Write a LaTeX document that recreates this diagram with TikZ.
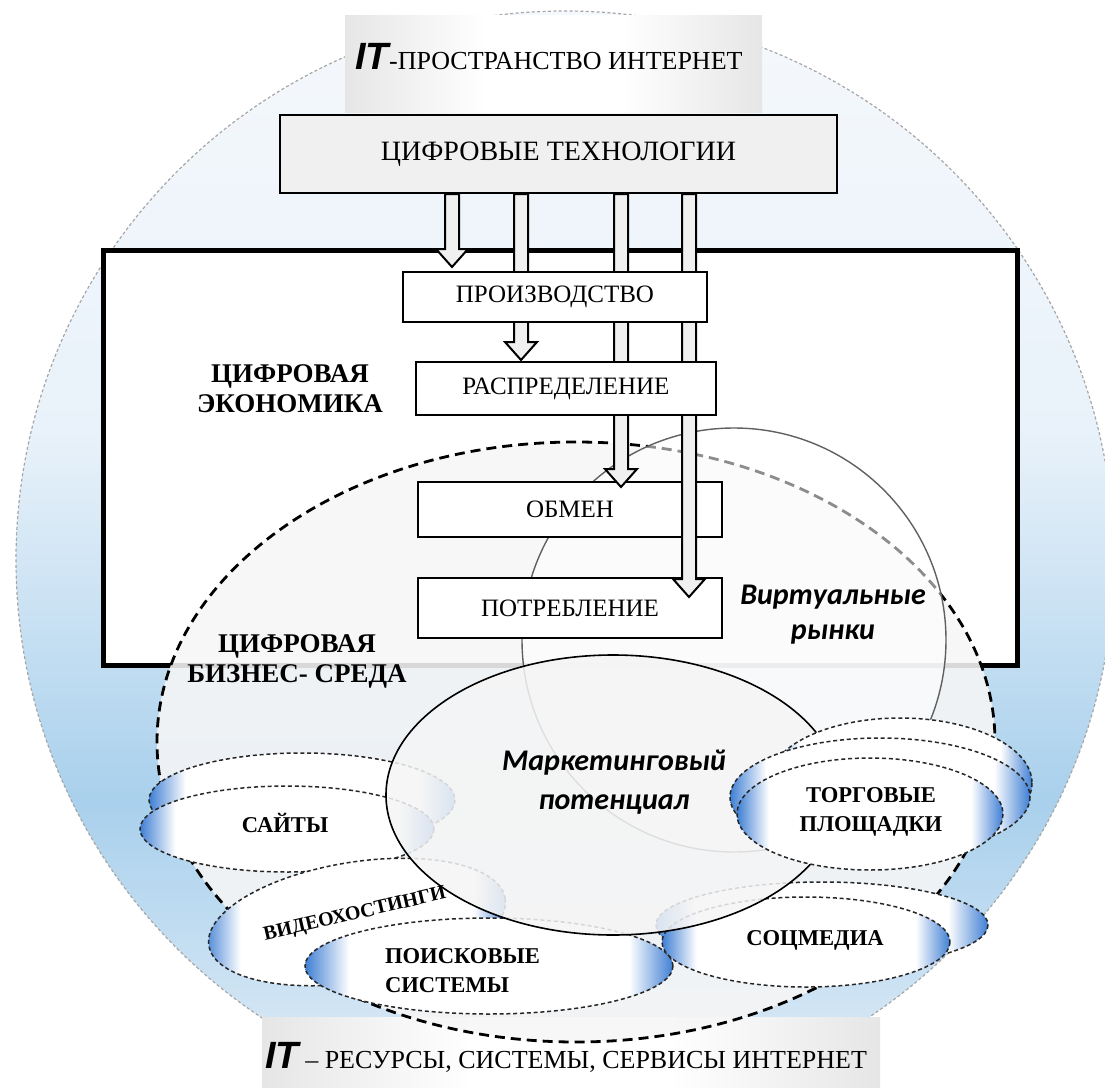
\documentclass[tikz,border=0pt]{standalone}
\usepackage{fontspec}
\setmainfont{Liberation Serif}
\newfontfamily\sansfont{Liberation Sans}
\newfontfamily\calfont{Carlito}
\usetikzlibrary{calc, positioning}

\definecolor{skyT}{HTML}{F5F8FC}
\definecolor{skyA}{HTML}{E9F2FA}
\definecolor{skyB}{HTML}{A9D0EC}
\definecolor{skyC}{HTML}{E3EEF8}
\definecolor{cresc}{HTML}{3F7FD4}
\definecolor{tagC}{HTML}{E6E6E6}

\pgfdeclareverticalshading{sky}{100bp}{color(0bp)=(skyC); color(25bp)=(skyC); color(39bp)=(skyB); color(56bp)=(skyA); color(75bp)=(skyT); color(100bp)=(skyT)}
\pgfdeclarehorizontalshading{pad}{100bp}{color(0bp)=(cresc); color(25bp)=(cresc); color(31bp)=(white); color(69bp)=(white); color(75bp)=(cresc); color(100bp)=(cresc)}
\pgfdeclarehorizontalshading{tag}{100bp}{color(0bp)=(tagC); color(25bp)=(tagC); color(42bp)=(white); color(58bp)=(white); color(75bp)=(tagC); color(100bp)=(tagC)}

\begin{document}
\begin{tikzpicture}[x=0.5pt, y=-0.5pt,
  box/.style={draw=black, line width=1pt, fill=white, inner sep=0pt,
    font=\fontsize{12.5}{14}\selectfont},
  item/.style={shade, shading=pad, draw=black!85, line width=0.75pt,
    dash pattern=on 2pt off 1.4pt},
  itemtxt/.style={font=\fontsize{11.3}{14.5}\selectfont\bfseries, align=center},
  head/.style={font=\fontsize{13.5}{15}\selectfont\bfseries, align=center},
  calit/.style={font=\calfont\fontsize{15}{19.5}\selectfont\bfseries\itshape, align=center},
  hollow/.style={draw=black, line width=1pt, fill=gray!12, line join=miter}]
\useasboundingbox (0,0) rectangle (1105,1088);

\shade[shading=sky] (565,560) circle [radius=549];
\draw[gray!70, line width=0.6pt, dash pattern=on 1.5pt off 1.2pt] (565,560) circle [radius=549];

\shade[shading=tag] (345,15) rectangle (762,112);
\node (itspace) at (549,57) {{\sansfont\bfseries\itshape\fontsize{19}{20}\selectfont IT}\fontsize{13}{15}\selectfont -ПРОСТРАНСТВО ИНТЕРНЕТ};
\shade[shading=tag] (262,1017) rectangle (880,1088);
\node (itres) at (566,1057) {{\sansfont\bfseries\itshape\fontsize{19}{20}\selectfont IT}\fontsize{13}{15}\selectfont\ -- РЕСУРСЫ, СИСТЕМЫ, СЕРВИСЫ ИНТЕРНЕТ};

\draw[line width=2.5pt, fill=white] (103,250) rectangle (1017,665);

\node[box, fill=gray!12, minimum width=278.5pt, minimum height=39pt, font=\fontsize{14}{16}\selectfont] (tech) at (558.5,154) {ЦИФРОВЫЕ ТЕХНОЛОГИИ};

\fill[gray!7, fill opacity=0.88] (576,742) ellipse [x radius=419, y radius=300];
\draw[black, line width=1.4pt, dash pattern=on 5pt off 3pt] (576,742) ellipse [x radius=419, y radius=300];
\draw[gray!75!black, line width=0.7pt, fill=white, fill opacity=0.55] (734,640) circle [radius=212];

\node[box, minimum width=152pt, minimum height=27.5pt] (exch) at (570,509.5) {ОБМЕН};
\node[box, minimum width=152pt, minimum height=30pt] (cons) at (570,608) {ПОТРЕБЛЕНИЕ};
\coordinate (prodtop) at (555,272);
\coordinate (distrtop) at (566,362);

\foreach \n/\ax in {1/452, 2/521, 3/621, 4/689}
  \coordinate (a\n) at (\ax,0);
\foreach \n/\tgt/\dy in {1/prodtop/-5, 2/distrtop/-2, 3/exch.north/6, 4/cons.north/20}{
  \coordinate (s\n) at (tech.south -| a\n);
  \coordinate (e\n) at ($(\tgt -| a\n)+(0,\dy)$);
  \draw[hollow] ($(s\n)+(-7,0)$) -- ($(e\n)+(-7,-18)$) -- ($(e\n)+(-16,-18)$) -- (e\n)
    -- ($(e\n)+(16,-18)$) -- ($(e\n)+(7,-18)$) -- ($(s\n)+(7,0)$) -- cycle;
}

\node[box, minimum width=152pt, minimum height=25pt] (prod) at (555,297) {ПРОИЗВОДСТВО};
\node[box, minimum width=150pt, minimum height=26.5pt] (distr) at (566,388.5) {РАСПРЕДЕЛЕНИЕ};

\node[head] (econ) at (290,389) {ЦИФРОВАЯ\\ЭКОНОМИКА};
\node[head] (bizenv) at (297,661) {ЦИФРОВАЯ\\БИЗНЕС- СРЕДА};
\node[calit, font=\calfont\fontsize{15}{17.5}\selectfont\bfseries\itshape] (virt) at (833,615) {Виртуальные\\рынки};

\path[item] (302,800) ellipse [x radius=153, y radius=47];
\path[item] (287,829) ellipse [x radius=147, y radius=43];
\path[item, rotate around={9:(357,922)}] (357,922) ellipse [x radius=150, y radius=60];
\path[item] (489,966) ellipse [x radius=184, y radius=48];
\path[item] (822,925) ellipse [x radius=166, y radius=43];
\path[item] (806,942) ellipse [x radius=144, y radius=45];

\draw[black, line width=0.8pt, fill=gray!8, fill opacity=0.85] (613,795) ellipse [x radius=227, y radius=140];

\path[item] (900,783) ellipse [x radius=132, y radius=65];
\path[item] (880,797) ellipse [x radius=150, y radius=59];
\path[item] (870,814) ellipse [x radius=133, y radius=56];

\node[calit] (mkt) at (614,782) {Маркетинговый\\потенциал};
\node[itemtxt] (sites) at (285,823) {САЙТЫ};
\node[itemtxt, font=\fontsize{10}{12}\selectfont\bfseries, rotate=13] (video) at (355,915) {ВИДЕОХОСТИНГИ};
\node[itemtxt, align=left, anchor=west] (search) at (378,971) {ПОИСКОВЫЕ\\СИСТЕМЫ};
\node[itemtxt] (trade) at (871,812) {ТОРГОВЫЕ\\ПЛОЩАДКИ};
\node[itemtxt] (social) at (815,940) {СОЦМЕДИА};
\end{tikzpicture}
\end{document}
